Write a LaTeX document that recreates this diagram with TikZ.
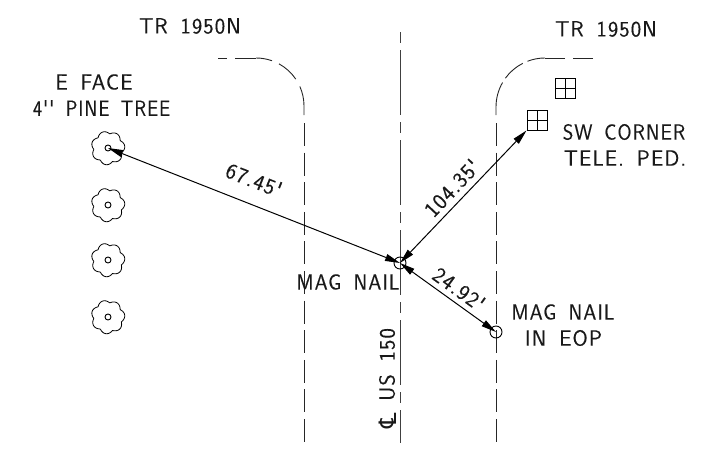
\documentclass[tikz,border=0pt]{standalone}
\usepackage{fontspec}
\usepackage{graphicx}
\usetikzlibrary{arrows.meta}
\newfontfamily\cadfont[LetterSpace=5,WordSpace=1.6,FakeBold=0.15]{Latin Modern Sans}
\newfontfamily\clfont{DejaVu Sans}
\newcommand{\squeezed}[2]{\scalebox{#1}[1]{#2}}
\tikzset{
  lab/.style={font=\cadfont\fontsize{22}{22}\selectfont,inner sep=0pt,text=black!90},
  edgeline/.style={line width=0.9pt,black!85},
  cline/.style={line width=0.9pt,black!75,dash pattern=on 11pt off 7pt on 65pt off 7pt},
  eopline/.style={edgeline,dash pattern=on 23pt off 6.6pt},
  dim/.style={line width=1pt,{Triangle[length=15pt,width=7pt]}-{Triangle[length=15pt,width=7pt]}},
  ring/.style={circle,draw,line width=0.9pt,inner sep=0pt,minimum size=#1},
  ped/.style={draw,line width=0.9pt,inner sep=0pt,minimum size=20pt,
    path picture={\draw[line width=0.9pt] (path picture bounding box.north)--(path picture bounding box.south)
      (path picture bounding box.west)--(path picture bounding box.east);}},
  lobes/.style={line width=0.8pt},
}
\newcommand{\treeshape}[2]{\draw[lobes] plot[domain=0:360,samples=141,smooth] ({#1+(14.2+2.6*abs(cos(3.5*\x+20)))*cos(\x)},{#2+(14.2+2.6*abs(cos(3.5*\x+20)))*sin(\x)}) -- cycle;}
\begin{document}
\begin{tikzpicture}[x=1pt,y=1pt,yscale=-1]
\useasboundingbox (0,0) rectangle (719,455);
% centre line
\coordinate (cltop) at (400,32);
\coordinate (clbot) at (400,443);
\draw[cline] (cltop) -- (clbot);
% left road edge
\coordinate (l0) at (218,58);
\coordinate (l1) at (227,58);
\coordinate (l2) at (235,58);
\coordinate (l3) at (256,58);
\draw[edgeline] (l0)--(l1) (l2)--(l3);
\draw[edgeline] (256,106) ++(-90:48) arc[start angle=-90,end angle=-70.5,radius=48];
\draw[edgeline] (256,106) ++(-61.4:48) arc[start angle=-61.4,end angle=-34,radius=48];
\draw[edgeline] (256,106) ++(-24:48) arc[start angle=-24,end angle=0,radius=48] -- (304,115);
\coordinate (lt) at (304,123);
\coordinate (lb) at (304,443);
\draw[eopline] (lt)--(lb);
% right road edge
\coordinate (r0) at (593,58);
\coordinate (r1) at (573,58);
\coordinate (r2) at (565,58);
\coordinate (r3) at (545,58);
\draw[edgeline] (r0)--(r1) (r2)--(r3);
\draw[edgeline] (545,107) ++(-90:49) arc[start angle=-90,end angle=-111,radius=49];
\draw[edgeline] (545,107) ++(-117:49) arc[start angle=-117,end angle=-144,radius=49];
\draw[edgeline] (545,107) ++(-150:49) arc[start angle=-150,end angle=-180,radius=49] -- (496,115);
\coordinate (rt) at (496,123);
\coordinate (rb) at (496,443);
\draw[eopline] (rt)--(rb);
% trees
\treeshape{108}{148}\treeshape{108}{205}\treeshape{108}{260}\treeshape{108}{317}
\node[ring=6pt] (t1) at (108,148) {};
\node[ring=6pt] (t2) at (108,205) {};
\node[ring=6pt] (t3) at (108,260) {};
\node[ring=6pt] (t4) at (108,317) {};
% points
\node[ring=12pt] (nail) at (400,263) {};
\node[ring=12pt] (eop) at (496,332) {};
\node[ped] (p1) at (537,120) {};
\node[ped] (p2) at (565,88) {};
% dimension lines
\draw[dim] (t1.center) -- (nail.center);
\draw[dim] (nail.center) -- (p1.south west);
\draw[dim] (nail.center) -- (eop.center);
% labels
\node[lab] (a) at (190,26) {TR 1950N};
\node[lab] (b) at (606,29) {TR 1950N};
\node[lab] (c) at (94,82) {E FACE};
\node[lab] (d) at (101.5,108) {\squeezed{0.89}{4'' PINE TREE}};
\node[lab] (e) at (624,132) {\squeezed{0.925}{SW CORNER}};
\node[lab] (f) at (625,158) {TELE. PED.};
\node[lab] (g) at (348,282) {\squeezed{0.95}{MAG NAIL}};
\node[lab] (h) at (563,312) {\squeezed{0.95}{MAG NAIL}};
\node[lab] (i) at (563.5,338) {IN EOP};
\node[lab,rotate=90] (j) at (387,364.5) {US 150};
\node[lab,rotate=90,font=\clfont\fontsize{24}{24}\selectfont] (cl) at (388,421) {℄};
\node[lab,rotate=-21.5] (k) at (254,180) {67.45'};
\node[lab,rotate=46.8] (m) at (452,188) {104.35'};
\node[lab,rotate=-35.7] (n) at (459,289) {24.92'};
\end{tikzpicture}
\end{document}
